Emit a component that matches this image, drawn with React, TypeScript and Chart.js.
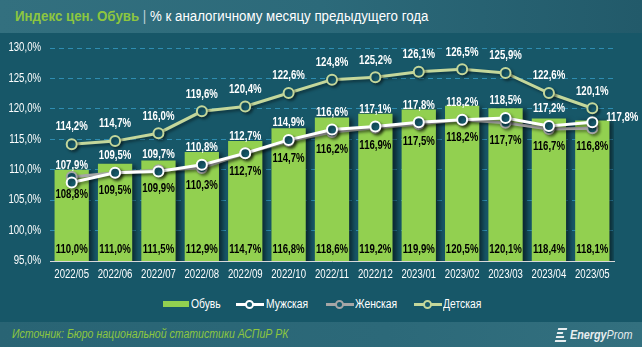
import React, { useEffect, useRef } from "react";
import { Chart, registerables } from "chart.js";

Chart.register(...registerables);

const months = ["2022/05", "2022/06", "2022/07", "2022/08", "2022/09", "2022/10", "2022/11", "2022/12", "2023/01", "2023/02", "2023/03", "2023/04", "2023/05"];
const footwear = [110.0, 111.0, 111.5, 112.9, 114.7, 116.8, 118.6, 119.2, 119.9, 120.5, 120.1, 118.4, 118.1];
const mens = [107.9, 109.5, 109.7, 110.8, 112.7, 114.9, 116.6, 117.1, 117.8, 118.2, 118.5, 117.2, 117.8];
const womens = [108.8, 109.5, 109.9, 110.3, 112.7, 114.7, 116.2, 116.9, 117.5, 118.2, 117.7, 116.7, 116.8];
const kids = [114.2, 114.7, 116.0, 119.6, 120.4, 122.6, 124.8, 125.2, 126.1, 126.5, 125.9, 122.6, 120.1];

const seriesNames = ["Обувь", "Мужская", "Женская", "Детская"];
const yMin = 95;
const yMax = 130;
const yStep = 5;

const BG = "#175768";
const GREEN = "#92D050";
const WHITE = "#FFFFFF";
const GRAY = "#A6A6A6";
const OLIVE = "#C4D79B";
const POINT_FILL = "#175A6C";
const FONT = '"Liberation Sans", Arial, sans-serif';

const fmt = (v: number) => v.toFixed(1).replace(".", ",") + "%";

function drawText(ctx: CanvasRenderingContext2D, txt: string, x: number, y: number, align: CanvasTextAlign, sx: number) {
  ctx.save();
  ctx.translate(x, y);
  ctx.scale(sx, 1);
  ctx.textAlign = align;
  ctx.textBaseline = "middle";
  ctx.fillText(txt, 0, 0);
  ctx.restore();
}

const shadowPlugin = {
  id: "shadowPlugin",
  beforeDatasetDraw(chart: any, args: any) {
    const ctx = chart.ctx;
    ctx.save();
    const ds = chart.data.datasets[args.index];
    if (ds.type === "bar") {
      ctx.shadowColor = "rgba(0,0,0,0.55)";
      ctx.shadowOffsetX = 4;
      ctx.shadowOffsetY = 1;
      ctx.shadowBlur = 5;
    } else {
      ctx.shadowColor = "rgba(0,0,0,0.4)";
      ctx.shadowOffsetX = 2;
      ctx.shadowOffsetY = 2;
      ctx.shadowBlur = 3;
    }
  },
  afterDatasetDraw(chart: any) {
    chart.ctx.restore();
  },
};

const tickPlugin = {
  id: "tickPlugin",
  afterDraw(chart: any) {
    const ctx = chart.ctx;
    const area = chart.chartArea;
    ctx.save();
    ctx.fillStyle = "#FFFFFF";
    ctx.font = `12px ${FONT}`;
    const xs = chart.scales.x;
    chart.data.labels.forEach((lab: string, i: number) => {
      drawText(ctx, lab, xs.getPixelForTick(i), area.bottom + 14, "center", 0.8);
    });
    const ys = chart.scales.y;
    ys.ticks.forEach((t: any) => {
      drawText(ctx, fmt(t.value), area.left - 9, ys.getPixelForValue(t.value), "right", 0.8);
    });
    ctx.restore();
  },
};

const labelPlugin = {
  id: "labelPlugin",
  afterDatasetsDraw(chart: any) {
    const ctx = chart.ctx;
    const area = chart.chartArea;
    ctx.save();
    ctx.font = `bold 12px ${FONT}`;
    const sx = 0.8;
    chart.data.datasets.forEach((ds: any, i: number) => {
      const meta = chart.getDatasetMeta(i);
      meta.data.forEach((el: any, j: number) => {
        const txt = fmt(ds.data[j]);
        if (i === 0) {
          ctx.fillStyle = "#000";
          drawText(ctx, txt, el.x, area.bottom - 11, "center", sx);
        } else if (i === 1) {
          ctx.fillStyle = "#fff";
          if (j === ds.data.length - 1) {
            drawText(ctx, txt, el.x + 14, el.y - 5, "left", sx);
          } else {
            drawText(ctx, txt, el.x, el.y - 17, "center", sx);
          }
        } else if (i === 2) {
          ctx.fillStyle = "#000";
          drawText(ctx, txt, el.x, el.y + 18, "center", sx);
        } else {
          ctx.fillStyle = "#fff";
          drawText(ctx, txt, el.x, el.y - 17, "center", sx);
        }
      });
    });
    ctx.restore();
  },
};

function LegendSwatchLine({ color, left }: { color: string; left: number }) {
  return (
    <span style={{ position: "absolute", left, top: 0, width: 28, height: 9 }}>
      <span style={{ position: "absolute", left: 0, right: 0, top: 3, height: 3, background: color }} />
      <span
        style={{
          position: "absolute",
          left: 9,
          top: 0,
          width: 5,
          height: 5,
          borderRadius: "50%",
          border: `2px solid ${color}`,
          background: POINT_FILL,
        }}
      />
    </span>
  );
}

function LegendText({ text, left }: { text: string; left: number }) {
  return (
    <span
      style={{
        position: "absolute",
        left,
        top: -3,
        fontSize: 12,
        lineHeight: "14px",
        color: "#fff",
        whiteSpace: "nowrap",
        transform: "scaleX(0.86)",
        transformOrigin: "left center",
      }}
    >
      {text}
    </span>
  );
}

export default function App() {
  const canvasRef = useRef<HTMLCanvasElement | null>(null);

  useEffect(() => {
    document.body.style.margin = "0";
    const ctx = canvasRef.current!.getContext("2d")!;
    const lineDs = (label: string, data: number[], color: string, order: number) => ({
      type: "line" as const,
      label,
      data,
      borderColor: color,
      borderWidth: 3,
      pointRadius: 5,
      pointHoverRadius: 5,
      pointBorderWidth: 2,
      pointBorderColor: color,
      pointBackgroundColor: POINT_FILL,
      tension: 0,
      order,
    });
    const chart = new Chart(ctx, {
      data: {
        labels: months,
        datasets: [
          {
            type: "bar" as const,
            label: seriesNames[0],
            data: footwear,
            backgroundColor: GREEN,
            barPercentage: 0.79,
            categoryPercentage: 1,
            order: 10,
          },
          lineDs(seriesNames[1], mens, WHITE, 2),
          lineDs(seriesNames[2], womens, GRAY, 3),
          lineDs(seriesNames[3], kids, OLIVE, 1),
        ] as any,
      },
      options: {
        animation: false,
        responsive: true,
        maintainAspectRatio: false,
        layout: { padding: { top: 15, right: 28, left: 0, bottom: 0 } },
        plugins: { legend: { display: false }, tooltip: { enabled: false } },
        scales: {
          x: {
            grid: { display: false },
            border: { display: true, color: "#D9D9D9", width: 1 },
            ticks: { display: false, autoSkip: false },
            afterFit: (s: any) => {
              s.height = 29;
            },
          },
          y: {
            min: yMin,
            max: yMax,
            border: { display: false, dash: [5, 4] },
            grid: {
              color: (c: any) => (c.tick && c.tick.value === yMin ? "rgba(0,0,0,0)" : "rgba(50,150,190,0.85)"),
              lineWidth: 1,
              drawTicks: false,
            },
            ticks: { stepSize: yStep, display: false },
            afterFit: (s: any) => {
              s.width = 50;
            },
          },
        },
      },
      plugins: [shadowPlugin, labelPlugin, tickPlugin],
    });
    return () => chart.destroy();
  }, []);

  return (
    <div style={{ position: "fixed", left: 0, top: 0, width: 642, height: 347, background: BG, overflow: "hidden", fontFamily: FONT }}>
      <div
        style={{
          position: "absolute",
          left: 0,
          top: 0,
          width: 642,
          height: 33,
          background: "linear-gradient(90deg, #33707F 0%, #2C6A7A 50%, #225A6A 100%)",
        }}
      >
        <div
          style={{
            position: "absolute",
            left: 15,
            top: 8,
            fontSize: 14,
            lineHeight: "16px",
            whiteSpace: "nowrap",
            color: "#fff",
            transform: "scaleX(0.95)",
            transformOrigin: "left center",
          }}
        >
          <span style={{ color: "#8DC63F", fontWeight: "bold" }}>Индекс цен. Обувь</span>
          <span style={{ color: "#BFD0D6" }}> | </span>
          <span>% к аналогичному месяцу предыдущего года</span>
        </div>
      </div>

      <div style={{ position: "absolute", left: 0, top: 33, width: 642, height: 257 }}>
        <canvas ref={canvasRef} />
      </div>

      <div style={{ position: "absolute", left: 0, top: 300, width: 642, height: 10 }}>
        <span style={{ position: "absolute", left: 163, top: 1, width: 26, height: 6, background: GREEN }} />
        <LegendText text={seriesNames[0]} left={191} />
        <LegendSwatchLine color={WHITE} left={236} />
        <LegendText text={seriesNames[1]} left={266} />
        <LegendSwatchLine color={GRAY} left={326} />
        <LegendText text={seriesNames[2]} left={355} />
        <LegendSwatchLine color={OLIVE} left={414} />
        <LegendText text={seriesNames[3]} left={443} />
      </div>

      <div
        style={{
          position: "absolute",
          left: 0,
          top: 322,
          width: 642,
          height: 25,
          background: "linear-gradient(90deg, #296474 0%, #2C6979 60%, #33707F 100%)",
        }}
      >
        <div
          style={{
            position: "absolute",
            left: 12,
            top: 5,
            fontSize: 12,
            lineHeight: "14px",
            fontStyle: "italic",
            color: "#8DC63F",
            whiteSpace: "nowrap",
            transform: "scaleX(0.88)",
            transformOrigin: "left center",
          }}
        >
          Источник: Бюро национальной статистики АСПиР РК
        </div>
        <div style={{ position: "absolute", left: 555, top: 6, width: 13, height: 14 }}>
          <span style={{ position: "absolute", left: 3, top: 0, width: 9, height: 2, background: "#E8EEF0", transform: "skewX(-15deg)" }} />
          <span style={{ position: "absolute", left: 2, top: 4, width: 6, height: 2, background: "#E8EEF0", transform: "skewX(-15deg)" }} />
          <span style={{ position: "absolute", left: 1, top: 8, width: 8, height: 2, background: "#E8EEF0", transform: "skewX(-15deg)" }} />
          <span style={{ position: "absolute", left: 0, top: 12, width: 11, height: 2, background: "#E8EEF0", transform: "skewX(-15deg)" }} />
        </div>
        <div
          style={{
            position: "absolute",
            left: 570,
            top: 6,
            fontSize: 12,
            lineHeight: "14px",
            fontStyle: "italic",
            color: "#E8EEF0",
            whiteSpace: "nowrap",
            transform: "scaleX(0.9)",
            transformOrigin: "left center",
          }}
        >
          <b>Energy</b>Prom
        </div>
      </div>
    </div>
  );
}
